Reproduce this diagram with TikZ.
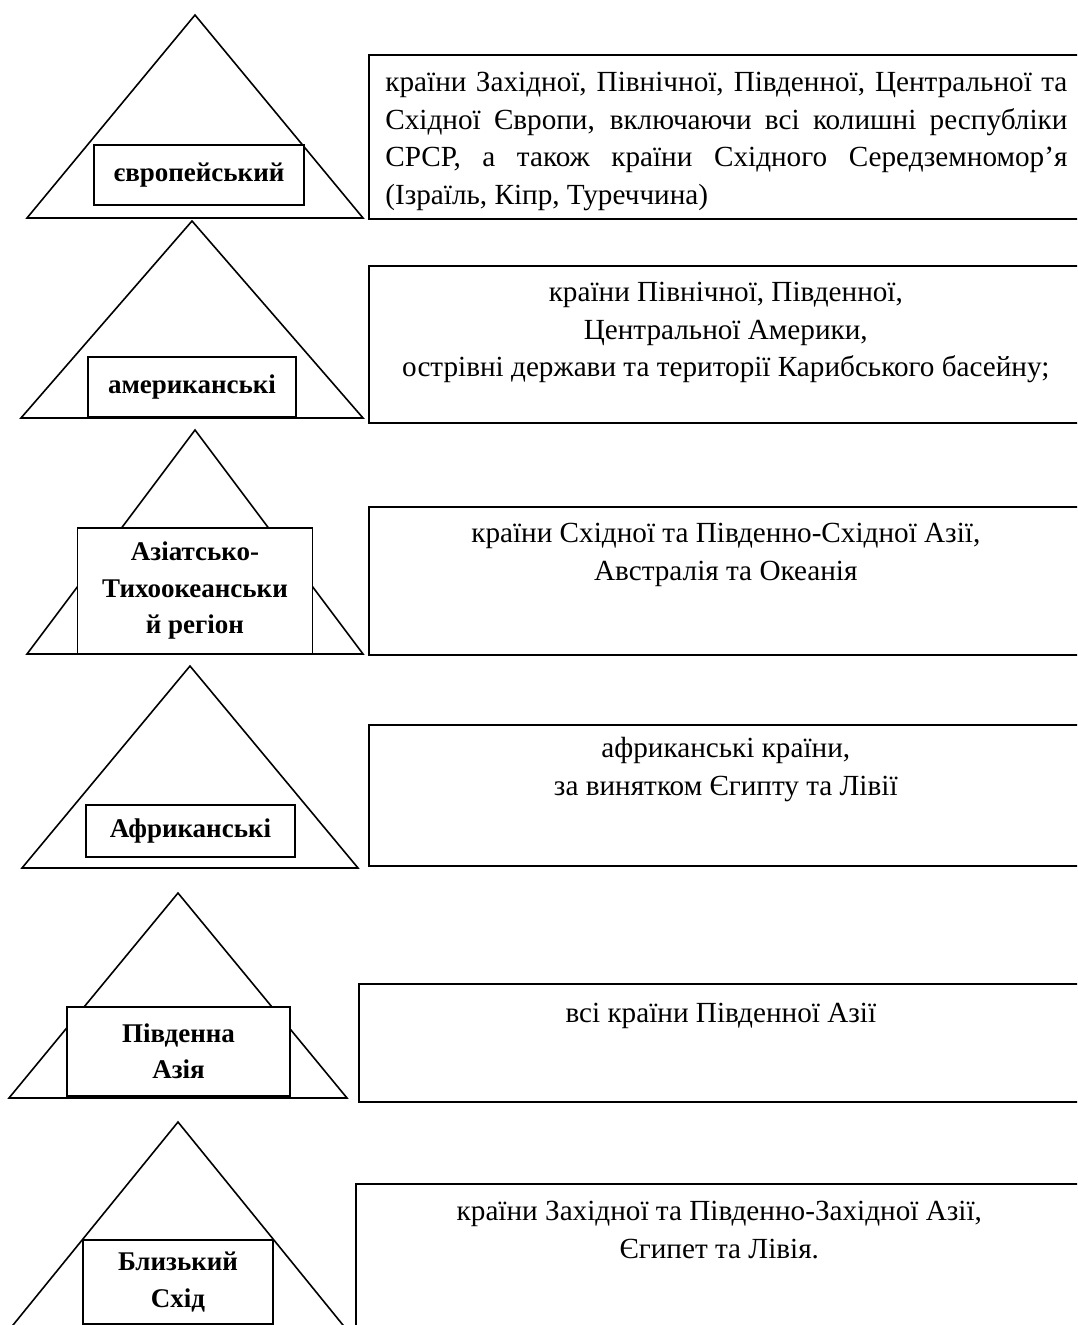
\documentclass[tikz,border=0pt]{standalone}
\usepackage{fontspec}
\setmainfont{Liberation Serif}
\usepackage{tikz}
\usetikzlibrary{positioning}
\usetikzlibrary{math}
\tikzstyle{pyramid} = [line width=0.8pt, line join=miter]
\tikzstyle{region} = [draw, line width=0.8pt, fill=white, inner sep=0pt, align=center, font=\bfseries\fontsize{13.5}{18.25}\selectfont]
\tikzstyle{info} = [draw, line width=0.8pt, anchor=north west, inner sep=0pt]
\tikzstyle{infotext} = [anchor=north, inner sep=0pt, align=center, font=\fontsize{14.6}{18.75}\selectfont, execute at begin node=\strut]

\begin{document}
\begin{tikzpicture}[x=0.5pt, y=-0.5pt]

  \clip (0,0) rectangle (1077,1325);

  % Row 1
  \draw[pyramid] (27,218) -- (195,15) -- (363,218) -- cycle;
  \node[region, minimum width=105pt, minimum height=30pt] (europe) at (199,175) {європейський};
  \node[info, minimum width=357pt, minimum height=82pt] (infoA) at (368,54) {};
  \node[infotext, align=justify, text width=341pt, below right=5.6pt and 8.5pt of infoA.north west] (textA)
    {країни Західної, Північної, Південної, Центральної~та\linebreak
     Східної Європи, включаючи всі колишні республіки\linebreak
     СРСР, а також країни Східного Середземномор'я\linebreak
     (Ізраїль, Кіпр, Туреччина)};

  % Row 2
  \draw[pyramid] (21,418) -- (192,221) -- (363,418) -- cycle;
  \node[region, minimum width=104pt, minimum height=30pt] (america) at (192,387) {американські};
  \node[info, minimum width=357pt, minimum height=78.5pt] (infoB) at (368,265) {};
  \node[infotext, below=8.6pt of infoB.north] (textB)
    {країни Північної, Південної,\\
     Центральної Америки,\\
     острівні держави та території Карибського басейну;};

  % Row 3
  \draw[pyramid] (27,654) -- (195,430) -- (363,654) -- cycle;
  \node[region, minimum width=117.5pt, minimum height=63pt] (asiapac) at (195,591) {Азіатсько-\\Тихоокеанськи\\й регіон};
  \node[info, minimum width=357pt, minimum height=74pt] (infoC) at (368,506) {};
  \node[infotext, below=8.6pt of infoC.north] (textC)
    {країни Східної та Південно-Східної Азії,\\
     Австралія та Океанія};

  % Row 4
  \draw[pyramid] (22,868) -- (190,666) -- (358,868) -- cycle;
  \node[region, minimum width=104.5pt, minimum height=26pt] (africa) at (190.5,831) {Африканські};
  \node[info, minimum width=357pt, minimum height=70.5pt] (infoD) at (368,724) {};
  \node[infotext, below=6.6pt of infoD.north] (textD)
    {африканські країни,\\
     за винятком Єгипту та Лівії};

  % Row 5
  \draw[pyramid] (9,1098) -- (178,893) -- (347,1098) -- cycle;
  \node[region, minimum width=111.5pt, minimum height=44.5pt] (southasia) at (178.5,1051.5) {Південна\\Азія};
  \node[info, minimum width=362pt, minimum height=59pt] (infoE) at (358,983) {};
  \node[infotext, below=6.6pt of infoE.north] (textE)
    {всі країни Південної Азії};

  % Row 6
  \draw[pyramid] (9,1330) -- (178,1122) -- (347,1330) -- cycle;
  \node[region, minimum width=95pt, minimum height=42pt] (mideast) at (178,1282) {Близький\\Схід};
  \node[info, minimum width=363.5pt, minimum height=80pt] (infoF) at (355,1183) {};
  \node[infotext, below=9pt of infoF.north] (textF)
    {країни Західної та Південно-Західної Азії,\\
     Єгипет та Лівія.};

\end{tikzpicture}
\end{document}
